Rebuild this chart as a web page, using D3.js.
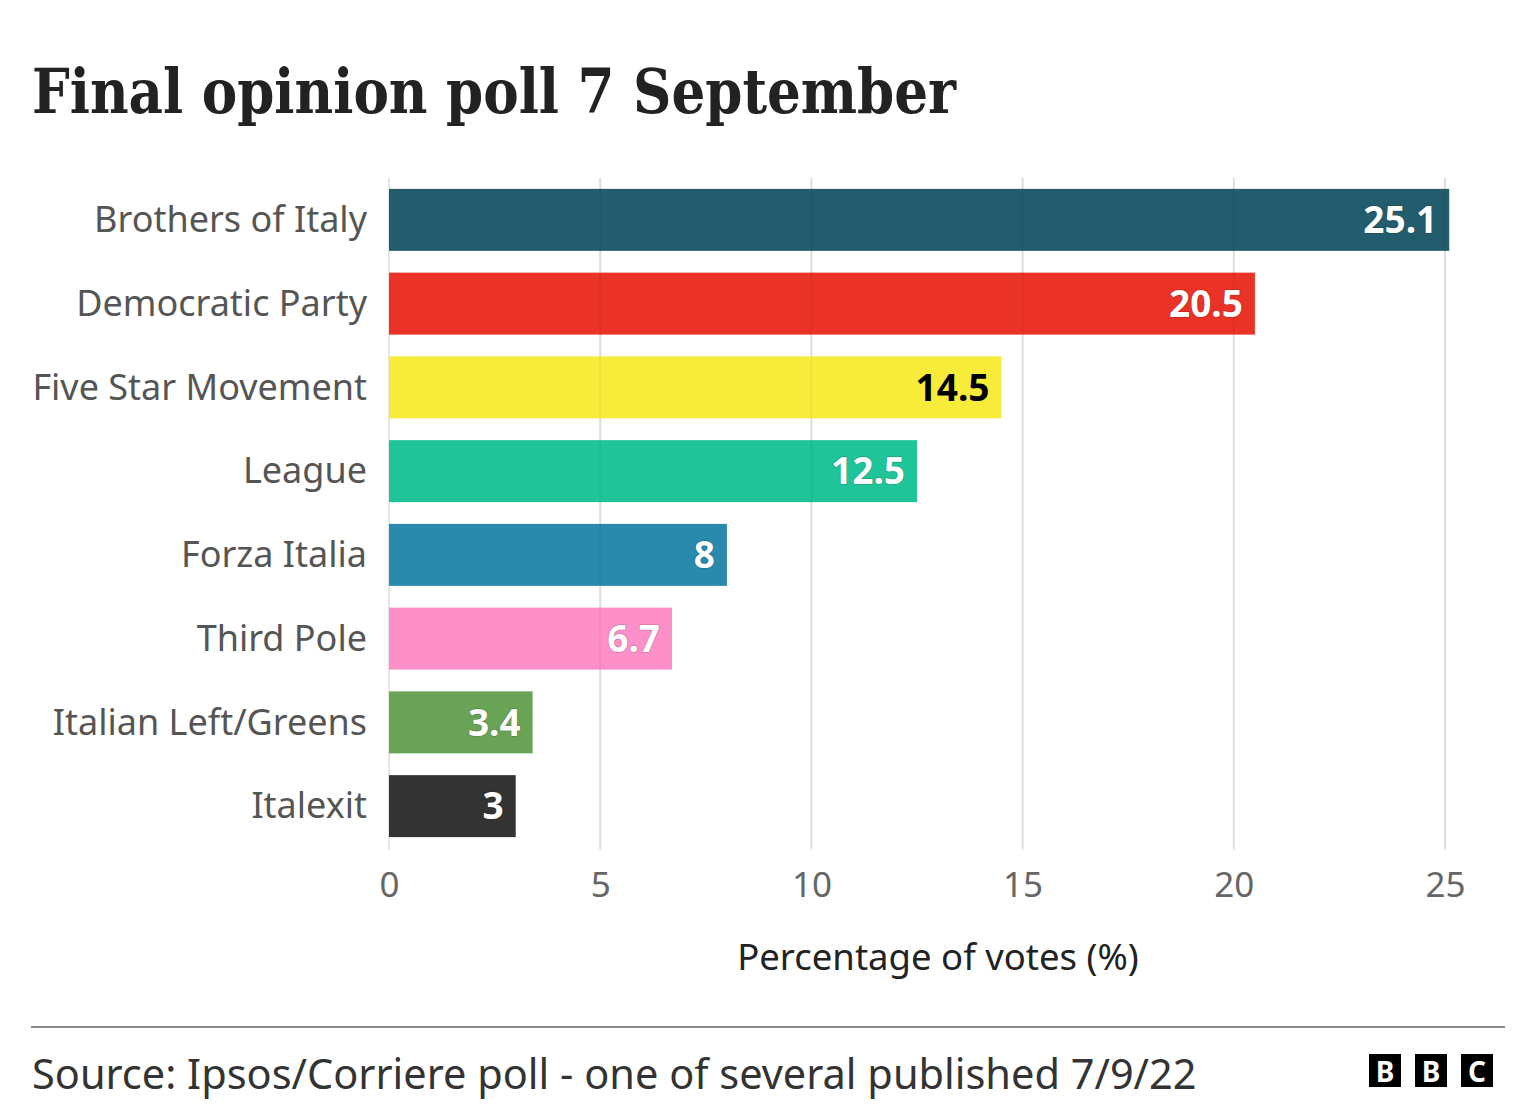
<!DOCTYPE html>
<html>
<head>
<meta charset="utf-8">
<script src="https://cdn.jsdelivr.net/npm/d3@7"></script>
<style>
  body { margin: 0; background: #fff; }
  svg { display: block; }
</style>
</head>
<body>
<div id="chart"></div>
<script>
var parties = ["Brothers of Italy", "Democratic Party", "Five Star Movement", "League",
  "Forza Italia", "Third Pole", "Italian Left/Greens", "Italexit"];
var votes = [25.1, 20.5, 14.5, 12.5, 8, 6.7, 3.4, 3];
var barColors = ["#235d6d", "#ea3226", "#f8ec3a", "#1fc599", "#2a8aad", "#fd90c8", "#69a356", "#333333"];
var labelColors = ["#fff", "#fff", "#000", "#fff", "#fff", "#fff", "#fff", "#fff"];
var xTicks = [0, 5, 10, 15, 20, 25];

var width = 1536,
  height = 1109,
  margin = { top: 178, right: 91, bottom: 261, left: 389 };

var svg = d3.select("#chart").append("svg")
  .attr("width", width)
  .attr("height", height);

var x = d3.scaleLinear().domain([0, 25]).range([margin.left, width - margin.right]);
var y = d3.scaleBand().domain(parties)
  .range([margin.top, height - margin.bottom])
  .paddingInner(0.26)
  .paddingOuter(0.13);

var sans = "'Noto Sans', 'Open Sans', sans-serif";

// title
svg.append("text")
  .attr("x", 32)
  .attr("y", 113)
  .style("font-family", "'DejaVu Serif Condensed', 'DejaVu Serif', serif")
  .style("font-weight", "bold")
  .style("font-size", "62px")
  .style("fill", "#222")
  .attr("textLength", 924)
  .attr("lengthAdjust", "spacingAndGlyphs")
  .text("Final opinion poll 7 September");

// grid (behind)
svg.append("g").selectAll("line")
  .data(xTicks).enter()
  .append("line")
  .attr("x1", function(d) { return x(d); })
  .attr("x2", function(d) { return x(d); })
  .attr("y1", margin.top)
  .attr("y2", height - margin.bottom + 2)
  .style("stroke", "#e6e6e6")
  .style("stroke-width", 2);

// bars
svg.append("g").selectAll("rect")
  .data(votes).enter()
  .append("rect")
  .attr("x", x(0))
  .attr("y", function(d, i) { return y(parties[i]); })
  .attr("width", function(d) { return x(d) - x(0); })
  .attr("height", y.bandwidth())
  .style("fill", function(d, i) { return barColors[i]; });

// faint grid over bars
svg.append("g").selectAll("line")
  .data(xTicks.slice(1)).enter()
  .append("line")
  .attr("x1", function(d) { return x(d); })
  .attr("x2", function(d) { return x(d); })
  .attr("y1", margin.top)
  .attr("y2", height - margin.bottom)
  .style("stroke", "rgba(0,0,0,0.04)")
  .style("stroke-width", 2);

// value labels
svg.append("g").selectAll("text")
  .data(votes).enter()
  .append("text")
  .attr("x", function(d) { return x(d) - 12; })
  .attr("y", function(d, i) { return y(parties[i]) + y.bandwidth() / 2; })
  .attr("dy", "0.36em")
  .attr("text-anchor", "end")
  .style("font-family", sans)
  .style("font-weight", "bold")
  .style("font-size", "37px")
  .style("fill", function(d, i) { return labelColors[i]; })
  .style("stroke", function(d, i) {
    return labelColors[i] == "#000" ? "none" : d3.color(barColors[i]).darker(0.5);
  })
  .style("stroke-width", 1.5)
  .style("stroke-linejoin", "round")
  .style("paint-order", "stroke")
  .text(function(d) { return d; });

// category axis
var yAxis = svg.append("g")
  .attr("transform", "translate(" + (margin.left - 22) + ",0)")
  .call(d3.axisLeft(y).tickSize(0).tickPadding(0));
yAxis.select(".domain").remove();
yAxis.selectAll("text")
  .attr("dy", "0.34em")
  .style("font-family", sans)
  .style("font-size", "36px")
  .style("fill", "#555");

// x axis
var xAxis = svg.append("g")
  .attr("transform", "translate(0," + (height - margin.bottom) + ")")
  .call(d3.axisBottom(x).tickValues(xTicks).tickSize(0).tickPadding(24));
xAxis.select(".domain").remove();
xAxis.selectAll("text")
  .style("font-family", sans)
  .style("font-size", "35px")
  .style("fill", "#666");

svg.append("text")
  .attr("x", 938)
  .attr("y", 970)
  .attr("text-anchor", "middle")
  .style("font-family", sans)
  .style("font-size", "36.5px")
  .style("fill", "#222")
  .text("Percentage of votes (%)");

// footer
svg.append("line")
  .attr("x1", 31).attr("x2", 1505)
  .attr("y1", 1027).attr("y2", 1027)
  .style("stroke", "#888")
  .style("stroke-width", 2);

svg.append("text")
  .attr("x", 32)
  .attr("y", 1089)
  .style("font-family", sans)
  .style("font-size", "41.5px")
  .style("fill", "#333")
  .text("Source: Ipsos/Corriere poll - one of several published 7/9/22");

var logo = svg.append("g").attr("transform", "translate(1369,1054)");
["B", "B", "C"].forEach(function(c, i) {
  logo.append("rect")
    .attr("x", i * 46)
    .attr("width", 32)
    .attr("height", 33)
    .style("fill", "#000");
  logo.append("text")
    .attr("x", i * 46 + 16)
    .attr("y", 28)
    .attr("text-anchor", "middle")
    .style("font-family", sans)
    .style("font-weight", "bold")
    .style("font-size", "28px")
    .style("fill", "#fff")
    .text(c);
});
</script>
</body>
</html>
